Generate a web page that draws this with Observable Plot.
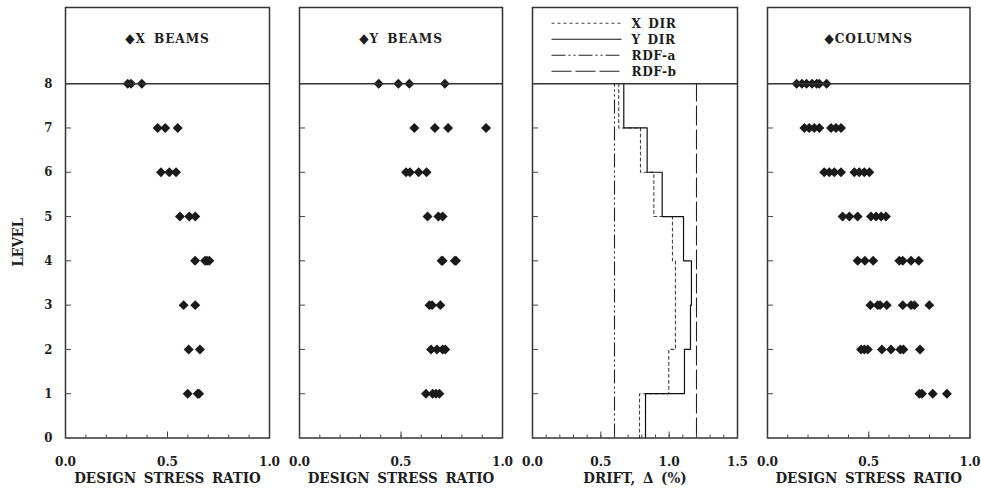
<!DOCTYPE html>
<html>
<head>
<meta charset="utf-8">
<script src="https://cdn.jsdelivr.net/npm/d3@7"></script>
<script src="https://cdn.jsdelivr.net/npm/@observablehq/plot@0.6"></script>
<style>
  html, body { margin: 0; padding: 0; background: #fff; }
  #wrap { position: relative; width: 981px; height: 491px; background: #fff; overflow: hidden; }
  #wrap svg.plotpanel { position: absolute; top: 0; }
  #legend { position: absolute; left: 0; top: 0; }
</style>
</head>
<body>
<div id="wrap"></div>
<script>
const FONT = '"DejaVu Serif Condensed", "DejaVu Serif", serif';

// ---- data ----
const levels = [1, 2, 3, 4, 5, 6, 7, 8];
const levelTicks = [0, 1, 2, 3, 4, 5, 6, 7, 8];
const ratioTicks = [0, 0.5, 1.0];
const ratioMinor = [0, 0.1, 0.2, 0.3, 0.4, 0.5, 0.6, 0.7, 0.8, 0.9, 1.0];
const driftTicks = [0, 0.5, 1.0, 1.5];
const driftMinor = [0, 0.1, 0.2, 0.3, 0.4, 0.5, 0.6, 0.7, 0.8, 0.9, 1.0, 1.1, 1.2, 1.3, 1.4, 1.5];

// design stress ratios, by level 1..8
const xBeams = [
  [0.599, 0.648, 0.655],
  [0.604, 0.659],
  [0.579, 0.636],
  [0.635, 0.684, 0.694, 0.705],
  [0.561, 0.607, 0.636],
  [0.468, 0.509, 0.542],
  [0.452, 0.489, 0.550],
  [0.305, 0.321, 0.374]
];
const yBeams = [
  [0.623, 0.656, 0.672, 0.689],
  [0.648, 0.677, 0.705, 0.718],
  [0.640, 0.653, 0.694],
  [0.700, 0.705, 0.765, 0.771],
  [0.631, 0.684, 0.705],
  [0.525, 0.544, 0.587, 0.626],
  [0.566, 0.667, 0.732, 0.919],
  [0.390, 0.487, 0.541, 0.716]
];
const columns = [
  [0.750, 0.763, 0.816, 0.886],
  [0.462, 0.478, 0.495, 0.565, 0.610, 0.656, 0.671, 0.753],
  [0.508, 0.544, 0.556, 0.589, 0.668, 0.709, 0.725, 0.799],
  [0.445, 0.481, 0.522, 0.651, 0.668, 0.709, 0.747],
  [0.371, 0.404, 0.445, 0.511, 0.536, 0.561, 0.585],
  [0.280, 0.305, 0.330, 0.363, 0.429, 0.453, 0.478, 0.503],
  [0.182, 0.206, 0.231, 0.256, 0.314, 0.338, 0.363],
  [0.144, 0.170, 0.193, 0.220, 0.243, 0.256, 0.292]
];

// story drift (%), story 1..8
const xDir = [0.783, 0.997, 1.046, 1.046, 1.024, 0.888, 0.790, 0.631];
const yDir = [0.827, 1.112, 1.156, 1.163, 1.105, 0.949, 0.839, 0.668];
const rdfA = 0.6;
const rdfB = 1.2;

const legendLabels = ["X DIR", "Y DIR", "RDF-a", "RDF-b"];
const dashes = { x: "3,3", y: null, a: "14,3,2,3,2,3", b: "20,4" };

// ---- helpers ----
const pointsOf = (arr) => arr.flatMap((vals, i) => vals.map(v => ({ level: levels[i], value: v })));
const stepsOf = (arr) => arr.flatMap((v, i) => [{ level: levels[i] - 1, value: v }, { level: levels[i], value: v }]);

const wrap = document.getElementById("wrap");

function panel({ frame: [fl, fr], xDomain, minor, major, label, title, marks, yLabels }) {
  const ml = 70, mr = 12;
  const fw = fr - fl;
  const svg = Plot.plot({
    width: ml + fw + mr,
    height: 491,
    marginLeft: ml, marginRight: mr, marginTop: 7, marginBottom: 53.5,
    x: { domain: xDomain },
    y: { domain: [0, 9.72] },
    style: { background: "transparent", overflow: "visible", fontFamily: FONT, fontWeight: "bold", color: "#1e1e1e" },
    marks: [
      ...marks,
      Plot.ruleY([levels[levels.length - 1]], { stroke: "#333", strokeWidth: 1.4 }),
      Plot.frame({ stroke: "#333", strokeWidth: 1.5 }),
      Plot.axisY({ ticks: levelTicks.slice(1), tickSize: -6, tickFormat: () => "", label: null, stroke: "#444" }),
      Plot.axisX({ ticks: minor, tickSize: -3, tickFormat: () => "", label: null, stroke: "#444" }),
      Plot.axisX({ ticks: major.slice(1, -1), tickSize: -6, tickFormat: () => "", label: null, stroke: "#444" }),
      Plot.axisX({ ticks: major, tickSize: 0, tickPadding: 18.5, tickFormat: d3.format(".1f"), label: null, fontSize: 13.5, fontFamily: FONT, fontWeight: "bold" }),
      yLabels ? Plot.axisY({ ticks: levelTicks, tickSize: 0, tickPadding: 13, tickFormat: d3.format("d"), label: null, fontSize: 13, fontFamily: FONT, fontWeight: "bold" }) : null,
      yLabels ? Plot.text(["LEVEL"], { frameAnchor: "left", dx: -47, dy: 19.5, rotate: -90, text: d => d, fontSize: 14.5, fontFamily: FONT, fontWeight: "bold", textAnchor: "middle" }) : null,
      Plot.text([label], { frameAnchor: "bottom", dy: 34.5, lineAnchor: "top", text: d => d, fontSize: 15, fontFamily: FONT, fontWeight: "bold" }),
      title ? Plot.text([title], { frameAnchor: "top", dy: 31.5, lineAnchor: "middle", text: d => d, fontSize: 13.5, fontFamily: FONT, fontWeight: "bold" }) : null
    ]
  });
  svg.classList.add("plotpanel");
  svg.style.left = (fl - ml) + "px";
  if (title) {
    d3.select(svg).selectAll("text").filter(function () { return this.textContent === title; })
      .style("letter-spacing", "0.9px").style("word-spacing", "3px");
  }
  d3.select(svg).selectAll("text").filter(function () { return this.textContent === label; })
    .style("word-spacing", "3px");
  wrap.appendChild(svg);
}

const dot = (arr) => Plot.dot(pointsOf(arr), { x: "value", y: "level", symbol: "diamond2", r: 4.5, fill: "#1a1a1a", stroke: "none" });

panel({ frame: [64.5, 268.5], xDomain: [0, 1], minor: ratioMinor, major: ratioTicks,
  label: "DESIGN STRESS RATIO", title: "\u25C6X BEAMS", marks: [dot(xBeams)], yLabels: true });
panel({ frame: [298.5, 501.5], xDomain: [0, 1], minor: ratioMinor, major: ratioTicks,
  label: "DESIGN STRESS RATIO", title: "\u25C6Y BEAMS", marks: [dot(yBeams)] });
panel({ frame: [532, 737], xDomain: [0, 1.5], minor: driftMinor, major: driftTicks,
  label: "DRIFT, \u0394 (%)", title: null, marks: [
    Plot.ruleX([rdfA], { y1: 0, y2: levels[levels.length - 1], stroke: "#222", strokeWidth: 1.1, strokeDasharray: dashes.a }),
    Plot.ruleX([rdfB], { y1: 0, y2: levels[levels.length - 1], stroke: "#222", strokeWidth: 1.1, strokeDasharray: dashes.b }),
    Plot.line(stepsOf(xDir), { x: "value", y: "level", stroke: "#444", strokeWidth: 1.1, strokeDasharray: dashes.x }),
    Plot.line(stepsOf(yDir), { x: "value", y: "level", stroke: "#111", strokeWidth: 1.2 })
  ] });
panel({ frame: [766.5, 969], xDomain: [0, 1], minor: ratioMinor, major: ratioTicks,
  label: "DESIGN STRESS RATIO", title: "\u25C6COLUMNS", marks: [dot(columns)] });

// legend for drift panel
const ns = "http://www.w3.org/2000/svg";
const lg = document.createElementNS(ns, "svg");
lg.setAttribute("id", "legend");
lg.setAttribute("width", 981);
lg.setAttribute("height", 100);
const rowY = [23.3, 39.3, 55.3, 71.3];
const dashList = [dashes.x, dashes.y, dashes.a, dashes.b];
const strokes = ["#444", "#111", "#222", "#222"];
legendLabels.forEach((t, i) => {
  const l = document.createElementNS(ns, "line");
  l.setAttribute("x1", 551.5); l.setAttribute("x2", 621.5);
  l.setAttribute("y1", rowY[i]); l.setAttribute("y2", rowY[i]);
  l.setAttribute("stroke", strokes[i]); l.setAttribute("stroke-width", 1.1);
  if (dashList[i]) l.setAttribute("stroke-dasharray", dashList[i]);
  lg.appendChild(l);
  const tx = document.createElementNS(ns, "text");
  tx.setAttribute("x", 631.5); tx.setAttribute("y", rowY[i]);
  tx.setAttribute("dy", "0.36em");
  tx.setAttribute("font-family", FONT.replace(/"/g, "'"));
  tx.setAttribute("font-weight", "bold");
  tx.setAttribute("font-size", 13.5);
  tx.setAttribute("fill", "#1e1e1e");
  tx.style.letterSpacing = "0.6px";
  tx.style.wordSpacing = "2px";
  tx.textContent = t;
  lg.appendChild(tx);
});
wrap.appendChild(lg);
</script>
</body>
</html>
